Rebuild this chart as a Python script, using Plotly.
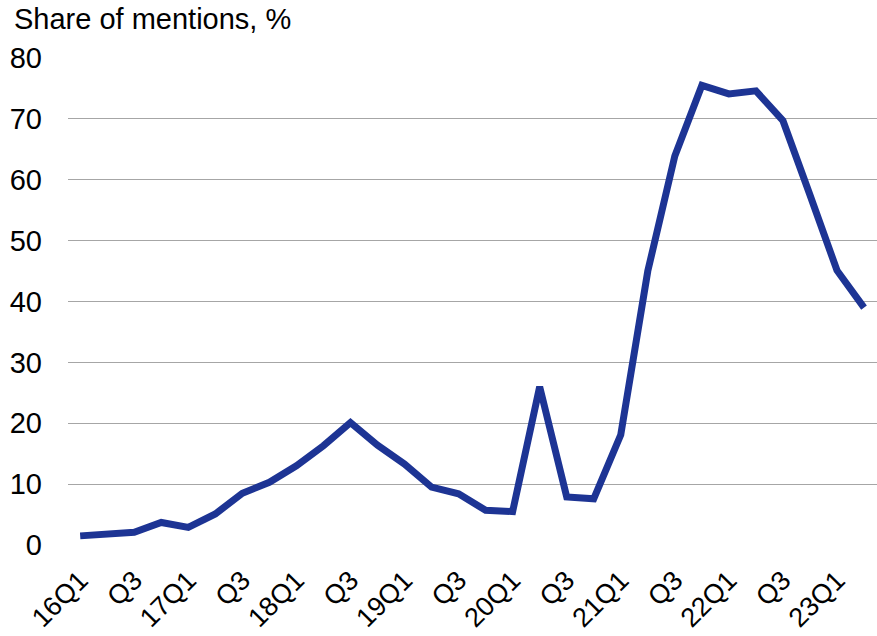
import plotly.graph_objects as go

# Quarterly share of mentions, 2016 Q1 – 2023 Q2
quarters = [
    "16Q1", "16Q2", "16Q3", "16Q4",
    "17Q1", "17Q2", "17Q3", "17Q4",
    "18Q1", "18Q2", "18Q3", "18Q4",
    "19Q1", "19Q2", "19Q3", "19Q4",
    "20Q1", "20Q2", "20Q3", "20Q4",
    "21Q1", "21Q2", "21Q3", "21Q4",
    "22Q1", "22Q2", "22Q3", "22Q4",
    "23Q1", "23Q2",
]
share = [
    1.5, 1.9, 2.1, 3.7,
    2.9, 5.1, 8.5, 10.3,
    13.0, 16.3, 20.1, 16.4,
    13.3, 9.5, 8.4, 5.7,
    5.5, 26.0, 7.9, 7.6,
    18.1, 45.0, 63.9, 75.5,
    74.1, 74.6, 69.7, 57.5,
    45.1, 39.0,
]

# Every other quarter is labelled on the axis
tick_vals = quarters[::2]
tick_text = ["16Q1", "Q3", "17Q1", "Q3", "18Q1", "Q3", "19Q1", "Q3",
             "20Q1", "Q3", "21Q1", "Q3", "22Q1", "Q3", "23Q1"]
y_ticks = [0, 10, 20, 30, 40, 50, 60, 70, 80]

fig = go.Figure(
    go.Scatter(
        x=quarters,
        y=share,
        mode="lines",
        line=dict(color="#1d3494", width=7, shape="linear"),
        hoverinfo="x+y",
    )
)

font_family = "Liberation Sans, Arial, sans-serif"

fig.update_layout(
    width=877,
    height=636,
    margin=dict(l=68, r=0, t=58, b=91),
    paper_bgcolor="white",
    plot_bgcolor="white",
    showlegend=False,
    font=dict(family=font_family, size=29, color="black"),
    title=dict(
        text="Share of mentions, %",
        x=14 / 877,
        xanchor="left",
        xref="container",
        y=1 - 19 / 636,
        yanchor="middle",
        yref="container",
        font=dict(family=font_family, size=29, color="black"),
    ),
    xaxis=dict(
        type="category",
        categoryorder="array",
        categoryarray=quarters,
        range=[-0.45, 29.48],
        tickmode="array",
        tickvals=tick_vals,
        ticktext=tick_text,
        tickangle=-45,
        showgrid=False,
        showline=False,
        zeroline=False,
        ticks="",
        ticklabelstandoff=13,
        tickfont=dict(size=27),
    ),
    yaxis=dict(
        range=[0, 80],
        tickmode="array",
        tickvals=y_ticks,
        showgrid=True,
        gridcolor="#a6a6a6",
        gridwidth=1.2,
        zeroline=False,
        showline=False,
        ticks="",
        ticklabelstandoff=25,
        tickfont=dict(size=29),
    ),
)

fig.write_html("out.html")
